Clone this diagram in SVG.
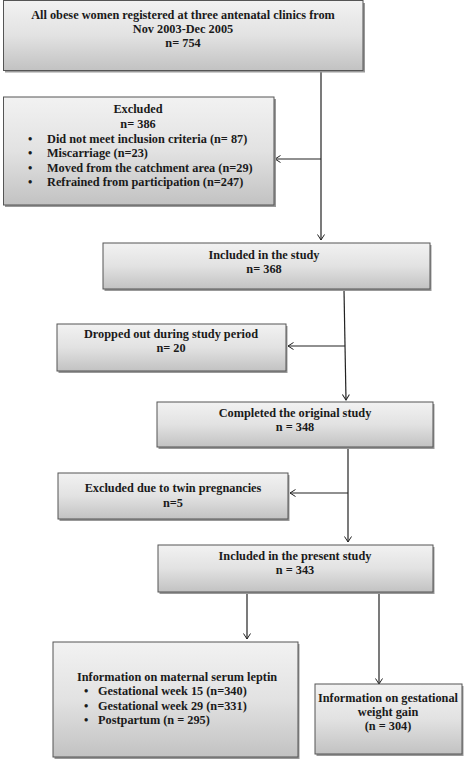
<svg xmlns="http://www.w3.org/2000/svg" width="473" height="760" viewBox="0 0 473 760">
<style>
.box{fill:url(#g);stroke:#555;stroke-width:1}
.sh{fill:#999}
text{font-family:"Liberation Serif","Times New Roman",serif;font-weight:bold;font-size:12.3px;fill:#1a1a1a}
.c{text-anchor:middle}
.ln{stroke:#222;stroke-width:1.2;fill:none}
</style>
<defs>
<linearGradient id="g" x1="0" y1="0" x2="0" y2="1">
<stop offset="0" stop-color="#f2f2f2"/>
<stop offset="0.5" stop-color="#e2e2e2"/>
<stop offset="1" stop-color="#c2c2c2"/>
</linearGradient>
<marker id="a" markerUnits="userSpaceOnUse" markerWidth="12" markerHeight="12" refX="6" refY="4" orient="auto">
<path d="M0.5,0.5 L6,4 L0.5,7.5" fill="none" stroke="#222" stroke-width="1"/>
</marker>
</defs>
<g id="connectors">
<path class="ln" d="M321,71 V240" marker-end="url(#a)"/>
<path class="ln" d="M321,159 H275" marker-end="url(#a)"/>
<path class="ln" d="M344,290 L346,400" marker-end="url(#a)"/>
<path class="ln" d="M345,346 H288" marker-end="url(#a)"/>
<path class="ln" d="M348,448 V542" marker-end="url(#a)"/>
<path class="ln" d="M348,493 H290" marker-end="url(#a)"/>
<path class="ln" d="M247,593 V639" marker-end="url(#a)"/>
<path class="ln" d="M379,593 V684" marker-end="url(#a)"/>
</g>
<g id="n1">
<rect class="sh" x="5" y="3" width="360" height="69.5"/>
<rect class="box" x="3.5" y="0.5" width="359.5" height="70"/>
<text class="c" x="183" y="19">All obese women registered at three antenatal clinics from</text>
<text class="c" x="183" y="33">Nov 2003-Dec 2005</text>
<text class="c" x="183" y="47">n= 754</text>
</g>
<g id="n2">
<rect class="sh" x="5" y="99" width="271" height="108"/>
<rect class="box" x="3.5" y="97" width="270.5" height="108"/>
<text class="c" x="138" y="113">Excluded</text>
<text class="c" x="138" y="127.5">n= 386</text>
<text x="28" y="142.5">•</text><text x="47" y="142.5">Did not meet inclusion criteria  (n= 87)</text>
<text x="28" y="157">•</text><text x="47" y="157">Miscarriage (n=23)</text>
<text x="28" y="171.5">•</text><text x="47" y="171.5">Moved from the catchment area (n=29)</text>
<text x="28" y="186">•</text><text x="47" y="186">Refrained from participation (n=247)</text>
</g>
<g id="n3">
<rect class="sh" x="104.5" y="245" width="327" height="46"/>
<rect class="box" x="103" y="243" width="327" height="46"/>
<text class="c" x="264" y="259">Included in the study</text>
<text class="c" x="264" y="273">n= 368</text>
</g>
<g id="n4">
<rect class="sh" x="58.5" y="326" width="229" height="47"/>
<rect class="box" x="57" y="324" width="229" height="47"/>
<text class="c" x="171" y="338">Dropped out during study period</text>
<text class="c" x="171" y="352">n= 20</text>
</g>
<g id="n5">
<rect class="sh" x="158.5" y="404" width="276" height="45"/>
<rect class="box" x="157" y="402" width="276" height="45"/>
<text class="c" x="295" y="417">Completed the original study</text>
<text class="c" x="295" y="431">n = 348</text>
</g>
<g id="n6">
<rect class="sh" x="59.5" y="475" width="230" height="46"/>
<rect class="box" x="58" y="473" width="230" height="46"/>
<text class="c" x="173" y="492">Excluded due to twin pregnancies</text>
<text class="c" x="173" y="507">n=5</text>
</g>
<g id="n7">
<rect class="sh" x="159.5" y="547" width="275" height="47"/>
<rect class="box" x="158" y="545" width="275" height="47"/>
<text class="c" x="295" y="560">Included in the present study</text>
<text class="c" x="295" y="574">n = 343</text>
</g>
<g id="n8">
<rect class="sh" x="54.5" y="644" width="245" height="115"/>
<rect class="box" x="53" y="642" width="245" height="115"/>
<text x="77" y="681">Information on maternal serum leptin</text>
<text x="84" y="695">•</text><text x="98" y="695">Gestational week 15 (n=340)</text>
<text x="84" y="709.5">•</text><text x="98" y="709.5">Gestational week 29 (n=331)</text>
<text x="84" y="724">•</text><text x="98" y="724">Postpartum (n = 295)</text>
</g>
<g id="n9">
<rect class="sh" x="316.5" y="686" width="147" height="70"/>
<rect class="box" x="315" y="684" width="147" height="70"/>
<text class="c" x="388" y="702">Information on gestational</text>
<text class="c" x="388" y="716">weight gain</text>
<text class="c" x="388" y="730">(n = 304)</text>
</g>
</svg>
